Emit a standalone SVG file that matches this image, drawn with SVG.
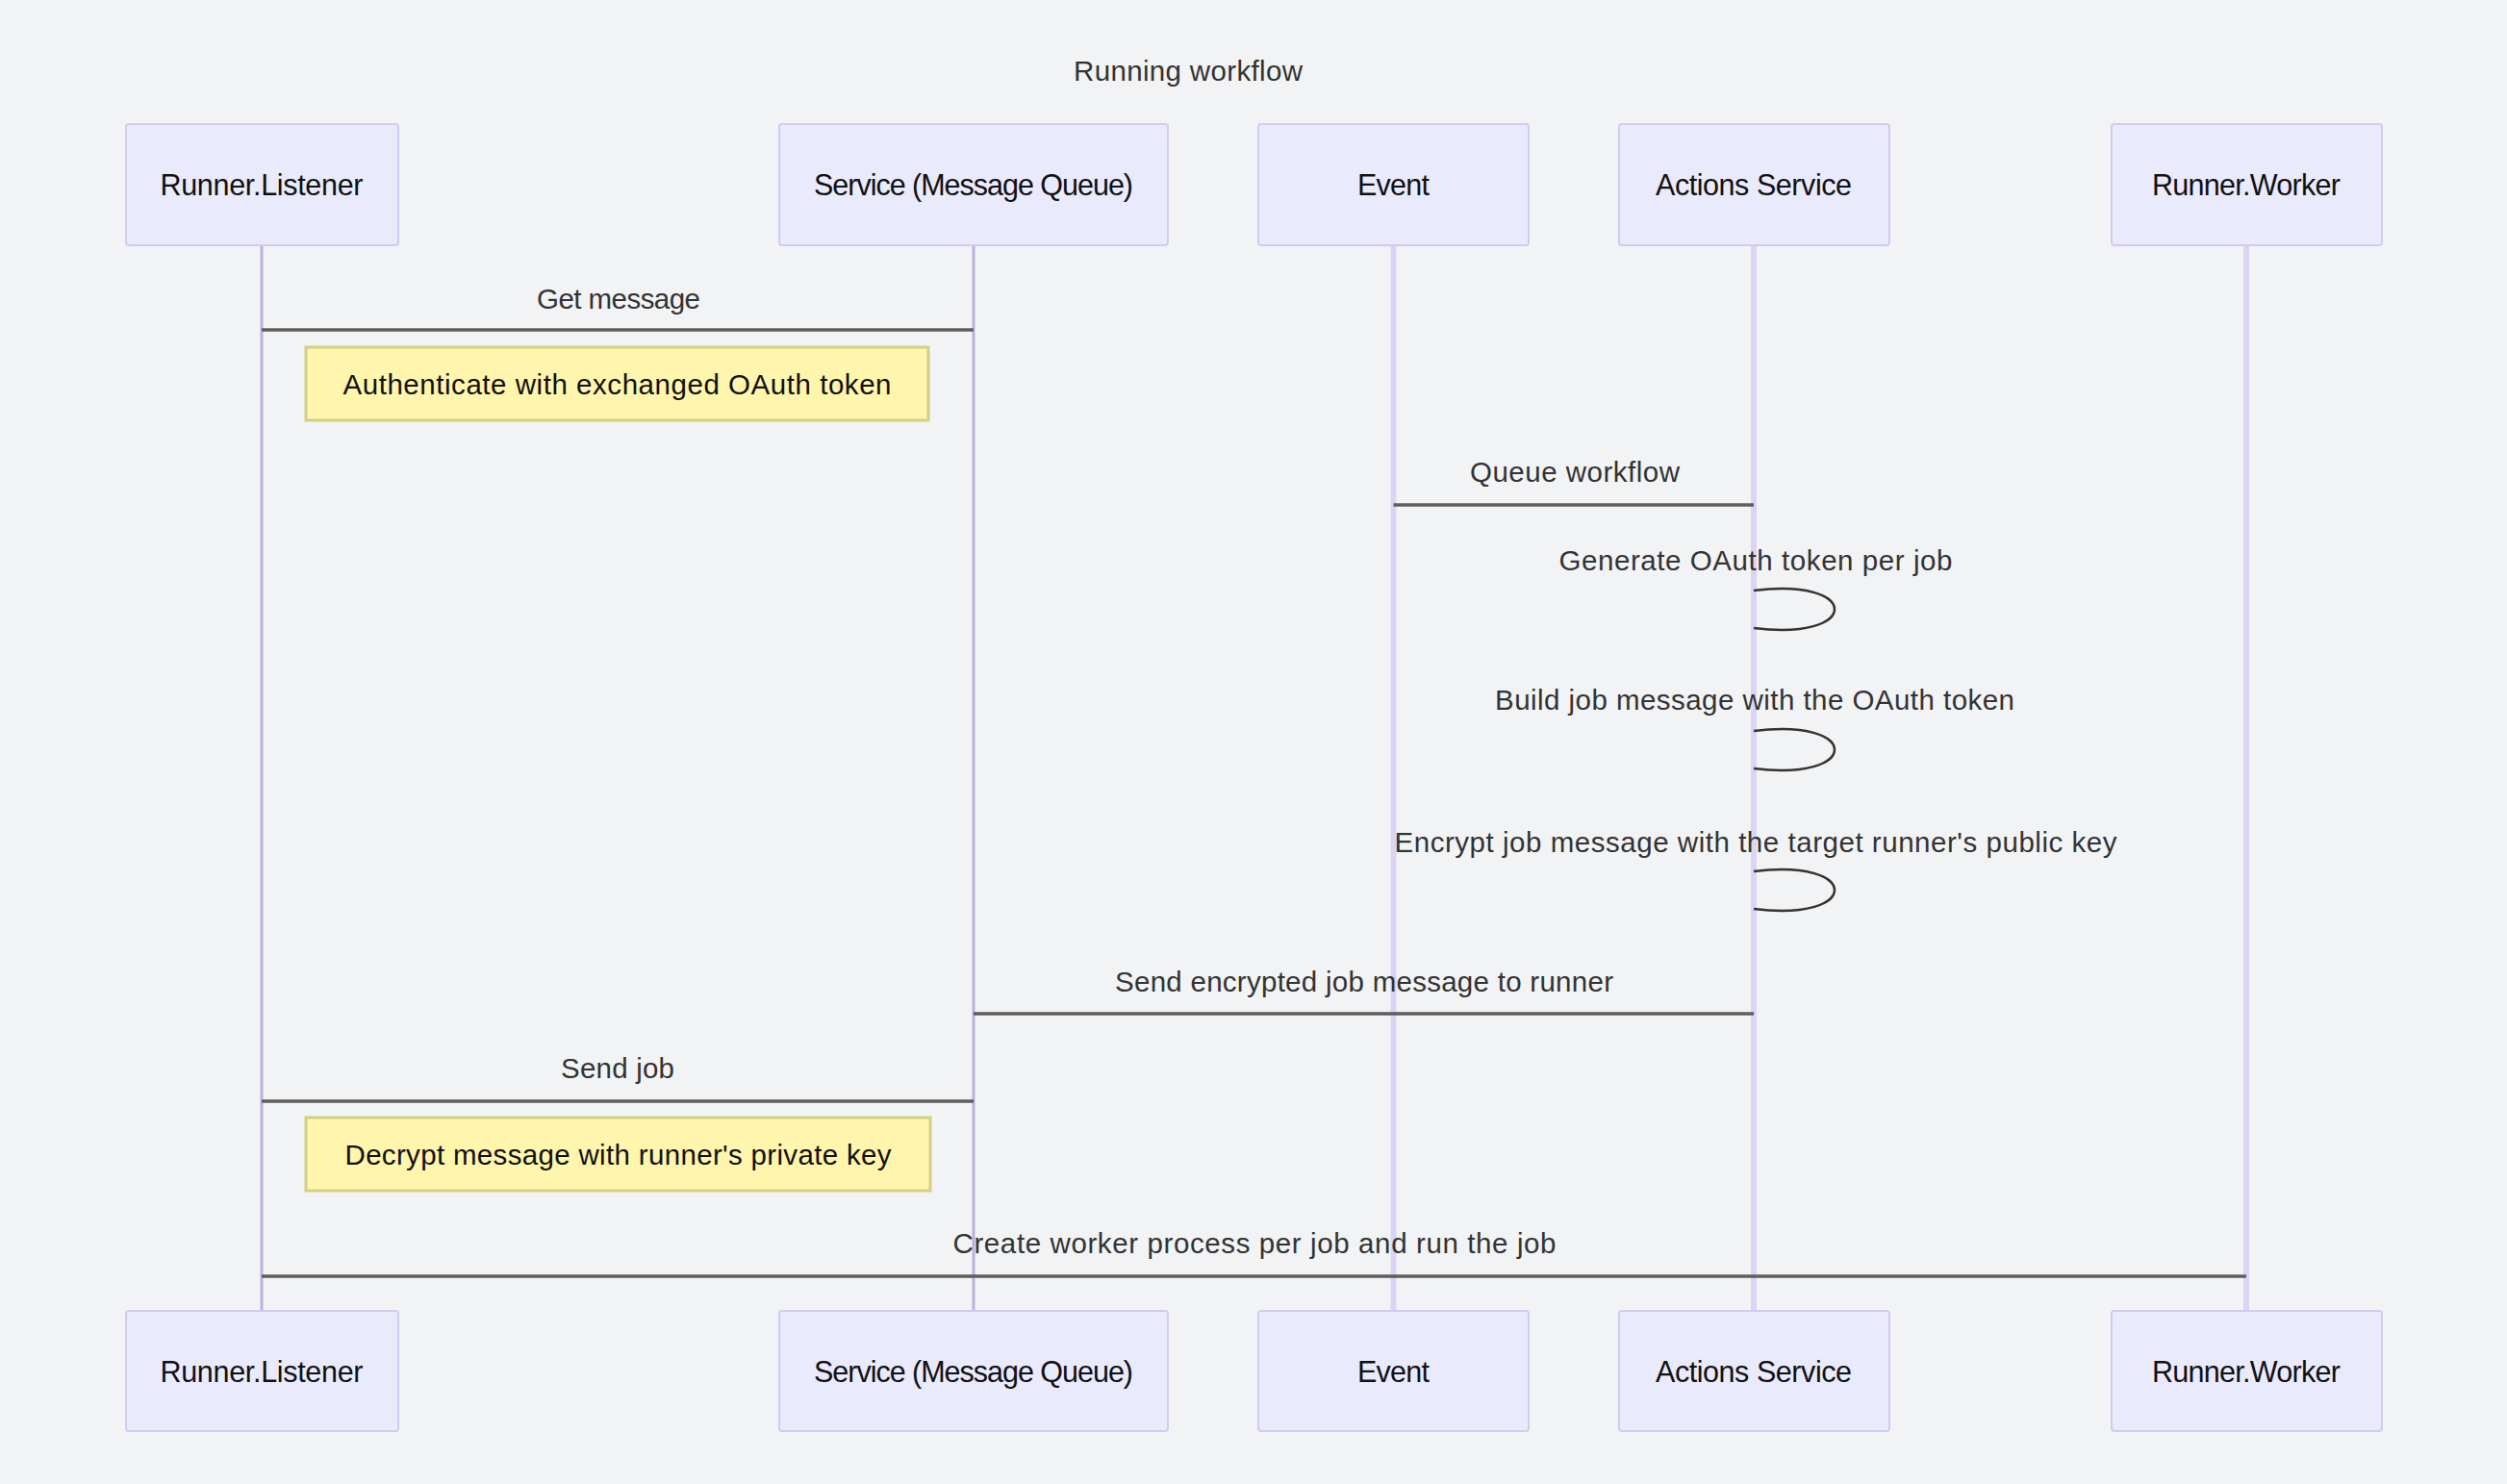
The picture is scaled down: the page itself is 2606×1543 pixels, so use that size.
<svg xmlns="http://www.w3.org/2000/svg" width="2606" height="1543" viewBox="0 0 2606 1543">
<style>
  .bg{fill:#f2f3f5}
  .actor rect{fill:#eaeafd;stroke:#d2cbef;stroke-width:2}
  .actor text{font-family:"Liberation Sans",Arial,sans-serif;font-size:30.5px;fill:#111;text-anchor:middle;dominant-baseline:central}
  .life-thin{stroke:#bab2dc;stroke-width:3}
  .life-wide{stroke:#dcd4f4;stroke-width:6}
  .msg{stroke:#5e5e5e;stroke-width:3.5;fill:none}
  .loop{stroke:#333;stroke-width:2.5;fill:none}
  .mtext{font-family:"Liberation Sans",Arial,sans-serif;font-size:29.5px;fill:#333;text-anchor:middle;dominant-baseline:central}
  .note rect{fill:#fff5ad;stroke:#d2d082;stroke-width:3}
  .note text{font-family:"Liberation Sans",Arial,sans-serif;font-size:29.5px;fill:#111;text-anchor:middle;dominant-baseline:central}
</style>
<rect class="bg" x="0" y="0" width="2606" height="1543"/>
<text class="mtext" x="1235" y="73" textLength="238">Running workflow</text>

<g id="lifelines">
  <line class="life-thin" x1="272" y1="255" x2="272" y2="1363"/>
  <line class="life-thin" x1="1012" y1="255" x2="1012" y2="1363"/>
  <line class="life-wide" x1="1448.5" y1="255" x2="1448.5" y2="1363"/>
  <line class="life-wide" x1="1823" y1="255" x2="1823" y2="1363"/>
  <line class="life-wide" x1="2335" y1="255" x2="2335" y2="1363"/>
</g>

<g id="actor-listener-top" class="actor"><rect x="131" y="129" width="283" height="126" rx="3"/><text x="272" y="192" textLength="211">Runner.Listener</text></g>
<g id="actor-service-top" class="actor"><rect x="810" y="129" width="404" height="126" rx="3"/><text x="1012" y="192" textLength="332">Service (Message Queue)</text></g>
<g id="actor-event-top" class="actor"><rect x="1308" y="129" width="281" height="126" rx="3"/><text x="1448.5" y="192" textLength="75">Event</text></g>
<g id="actor-actions-top" class="actor"><rect x="1683" y="129" width="281" height="126" rx="3"/><text x="1823" y="192" textLength="204">Actions Service</text></g>
<g id="actor-worker-top" class="actor"><rect x="2195" y="129" width="281" height="126" rx="3"/><text x="2335" y="192" textLength="196">Runner.Worker</text></g>

<g id="actor-listener-bottom" class="actor"><rect x="131" y="1363" width="283" height="125" rx="3"/><text x="272" y="1426" textLength="211">Runner.Listener</text></g>
<g id="actor-service-bottom" class="actor"><rect x="810" y="1363" width="404" height="125" rx="3"/><text x="1012" y="1426" textLength="332">Service (Message Queue)</text></g>
<g id="actor-event-bottom" class="actor"><rect x="1308" y="1363" width="281" height="125" rx="3"/><text x="1448.5" y="1426" textLength="75">Event</text></g>
<g id="actor-actions-bottom" class="actor"><rect x="1683" y="1363" width="281" height="125" rx="3"/><text x="1823" y="1426" textLength="204">Actions Service</text></g>
<g id="actor-worker-bottom" class="actor"><rect x="2195" y="1363" width="281" height="125" rx="3"/><text x="2335" y="1426" textLength="196">Runner.Worker</text></g>

<g id="note-auth" class="note"><rect x="318" y="361" width="647" height="76"/><text x="641.5" y="399" textLength="570">Authenticate with exchanged OAuth token</text></g>
<g id="note-decrypt" class="note"><rect x="318" y="1162" width="649" height="76"/><text x="642.5" y="1200" textLength="568">Decrypt message with runner's private key</text></g>

<g id="connectors">
  <line class="msg" x1="272" y1="343" x2="1012" y2="343"/>
  <text class="mtext" x="643" y="310" textLength="170">Get message</text>

  <line class="msg" x1="1448.5" y1="525" x2="1823" y2="525"/>
  <text class="mtext" x="1637" y="490" textLength="218">Queue workflow</text>

  <path class="loop" d="M1823,614 C1935,600 1935,667 1823,653"/>
  <text class="mtext" x="1825" y="582" textLength="409">Generate OAuth token per job</text>

  <path class="loop" d="M1823,760 C1935,746 1935,813 1823,799"/>
  <text class="mtext" x="1824" y="727.5" textLength="540">Build job message with the OAuth token</text>

  <path class="loop" d="M1823,906 C1935,892 1935,959 1823,945"/>
  <text class="mtext" x="1825" y="875" textLength="751">Encrypt job message with the target runner's public key</text>

  <line class="msg" x1="1012" y1="1054" x2="1823" y2="1054"/>
  <text class="mtext" x="1418" y="1020" textLength="518">Send encrypted job message to runner</text>

  <line class="msg" x1="272" y1="1145" x2="1012" y2="1145"/>
  <text class="mtext" x="642" y="1110" textLength="118">Send job</text>

  <line class="msg" x1="272" y1="1327" x2="2335" y2="1327"/>
  <text class="mtext" x="1304" y="1292" textLength="627">Create worker process per job and run the job</text>
</g>
</svg>
